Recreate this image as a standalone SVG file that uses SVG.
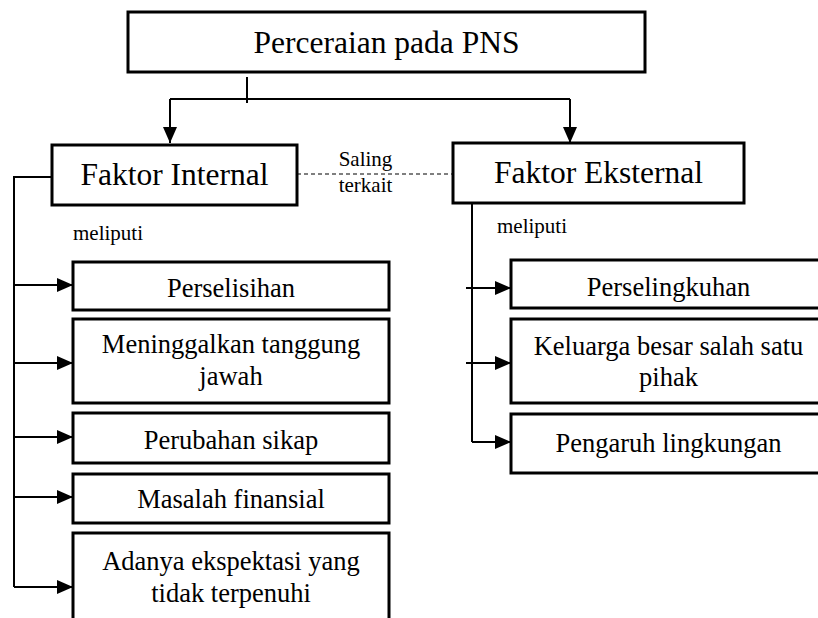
<svg xmlns="http://www.w3.org/2000/svg" width="818" height="618" viewBox="0 0 818 618">
<style>
.box{fill:#fff;stroke:#000;stroke-width:3}
.ln{fill:none;stroke:#000;stroke-width:2}
.dash{fill:none;stroke:#000;stroke-width:1.2;stroke-dasharray:4 3}
text{font-family:"Liberation Serif","Times New Roman",serif;fill:#000;text-anchor:middle}
.h{font-size:31.5px}
.c{font-size:26.5px}
.s{font-size:21px}
.l{text-anchor:start}
</style>
<defs>
<marker id="ah" markerUnits="userSpaceOnUse" markerWidth="16" markerHeight="14" refX="16" refY="7" orient="auto">
<path d="M0,0 L16,7 L0,14 z" fill="#000"/>
</marker>
</defs>
<rect width="818" height="618" fill="#fff"/>
<g id="connectors">
<line class="ln" x1="247" y1="77" x2="247" y2="103"/>
<path class="ln" d="M170,99 H570"/>
<path class="ln" d="M170,99 V143" marker-end="url(#ah)"/>
<path class="ln" d="M570,99 V143" marker-end="url(#ah)"/>
<line class="dash" x1="297" y1="174" x2="453" y2="174"/>
<path class="ln" d="M52,177 H14 V587"/>
<path class="ln" d="M14,285 H73" marker-end="url(#ah)"/>
<path class="ln" d="M14,363 H73" marker-end="url(#ah)"/>
<path class="ln" d="M14,437 H73" marker-end="url(#ah)"/>
<path class="ln" d="M14,497 H73" marker-end="url(#ah)"/>
<path class="ln" d="M14,587 H73" marker-end="url(#ah)"/>
<path class="ln" d="M472,203 V442"/>
<path class="ln" d="M466,288 H511" marker-end="url(#ah)"/>
<path class="ln" d="M466,363 H511" marker-end="url(#ah)"/>
<path class="ln" d="M472,442 H511" marker-end="url(#ah)"/>
<text class="s" x="365.5" y="166">Saling</text>
<text class="s" x="365.5" y="192">terkait</text>
<text class="s l" x="73" y="240">meliputi</text>
<text class="s l" x="497" y="233">meliputi</text>
</g>
<g id="root">
<rect class="box" x="128" y="12" width="517" height="60"/>
<text class="h" x="386.5" y="53">Perceraian pada PNS</text>
</g>
<g id="internal">
<rect class="box" x="52" y="145" width="245" height="60"/>
<text class="h" x="174.5" y="185">Faktor Internal</text>
</g>
<g id="eksternal">
<rect class="box" x="453" y="143" width="291" height="60"/>
<text class="h" x="598.5" y="183">Faktor Eksternal</text>
</g>
<g id="perselisihan">
<rect class="box" x="73" y="262" width="316" height="48"/>
<text class="c" x="231" y="297">Perselisihan</text>
</g>
<g id="meninggalkan">
<rect class="box" x="73" y="319" width="316" height="84"/>
<text class="c" x="231" y="353">Meninggalkan tanggung</text>
<text class="c" x="231" y="385">jawah</text>
</g>
<g id="perubahan">
<rect class="box" x="73" y="413" width="316" height="50"/>
<text class="c" x="231" y="449">Perubahan sikap</text>
</g>
<g id="masalah">
<rect class="box" x="73" y="474" width="316" height="49"/>
<text class="c" x="231" y="508">Masalah finansial</text>
</g>
<g id="ekspektasi">
<rect class="box" x="73" y="533" width="316" height="100"/>
<text class="c" x="231" y="570">Adanya ekspektasi yang</text>
<text class="c" x="231" y="602">tidak terpenuhi</text>
</g>
<g id="perselingkuhan">
<rect class="box" x="511" y="260" width="316" height="48"/>
<text class="c" x="668.5" y="296">Perselingkuhan</text>
</g>
<g id="keluarga">
<rect class="box" x="511" y="319" width="316" height="84"/>
<text class="c" x="668.5" y="355">Keluarga besar salah satu</text>
<text class="c" x="668.5" y="386">pihak</text>
</g>
<g id="lingkungan">
<rect class="box" x="511" y="414" width="316" height="59"/>
<text class="c" x="668.5" y="452">Pengaruh lingkungan</text>
</g>
</svg>
